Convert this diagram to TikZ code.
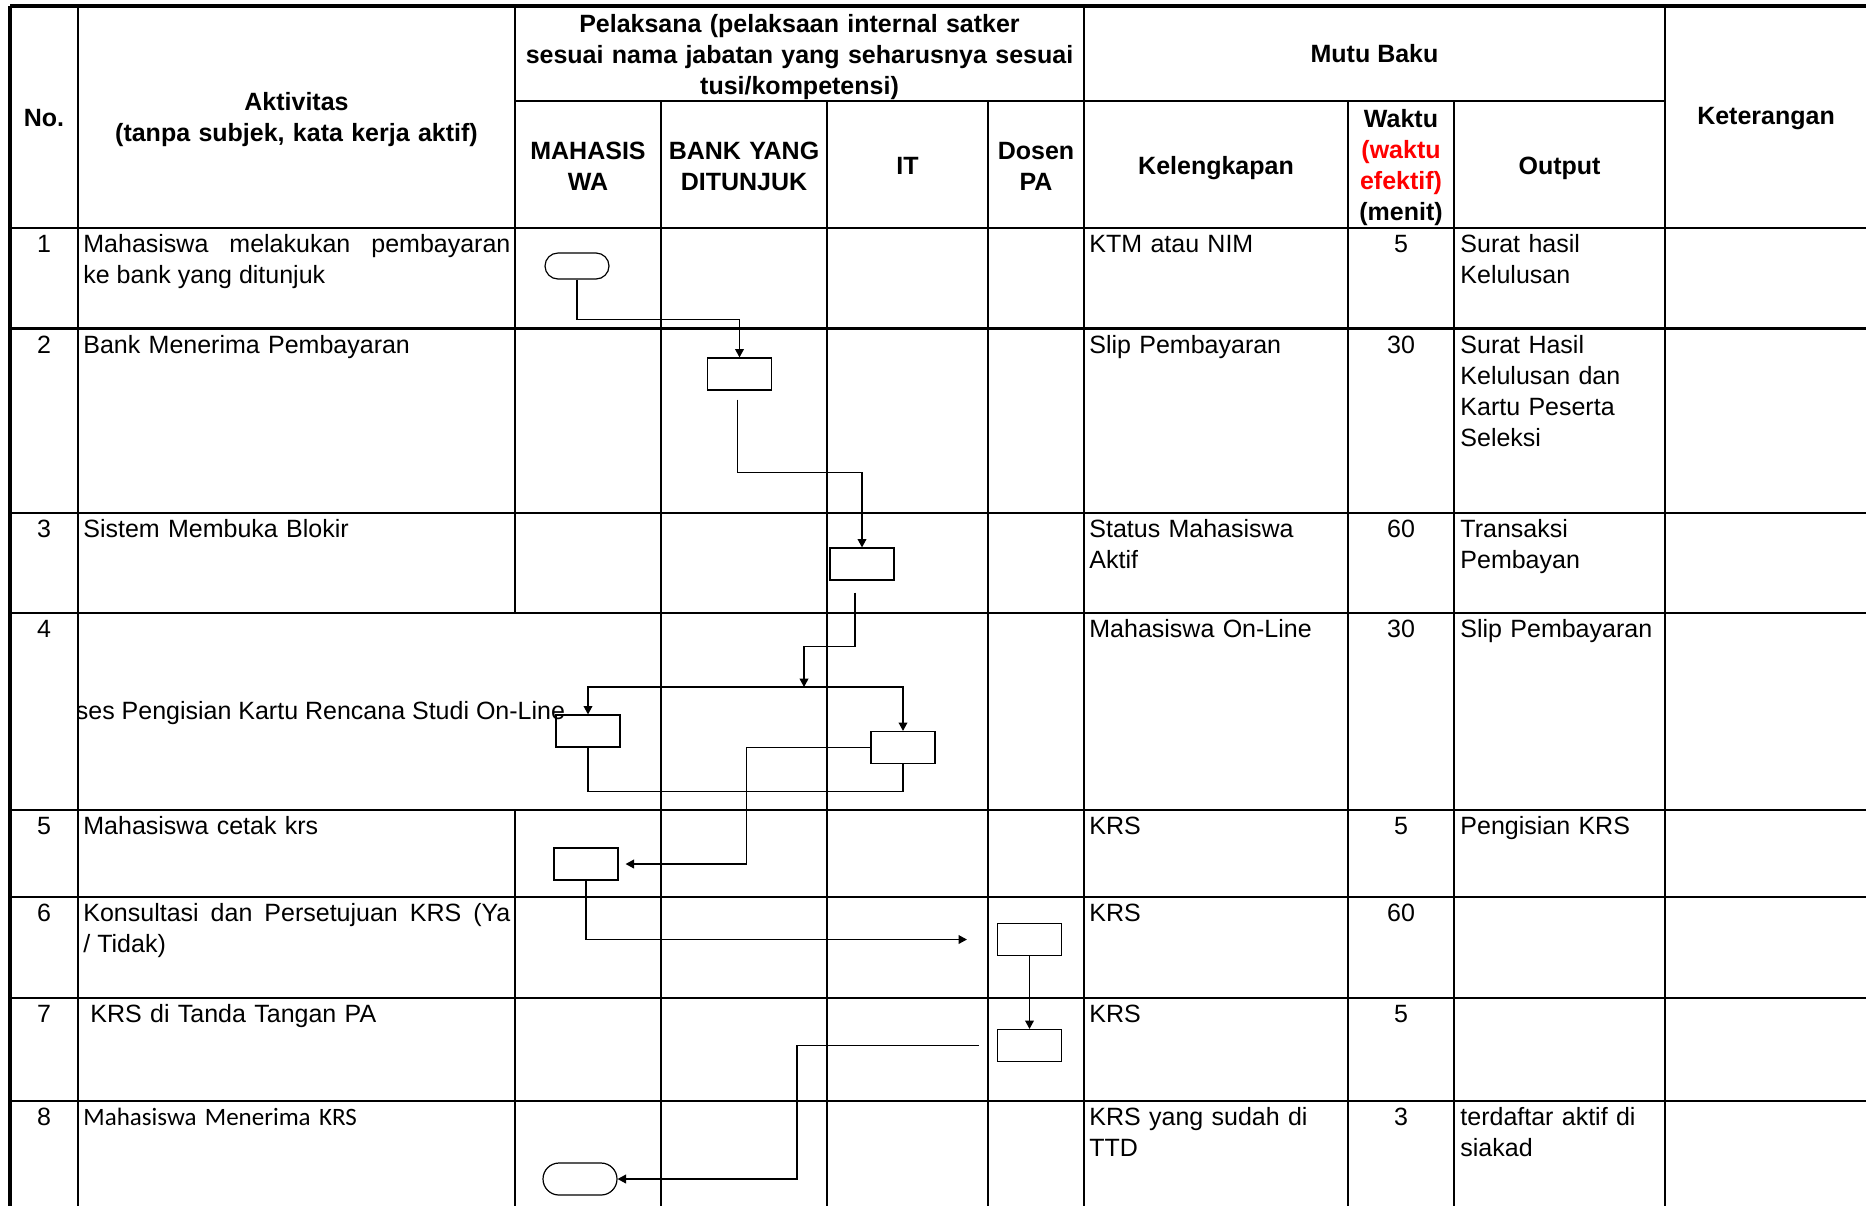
\documentclass[tikz,border=0pt]{standalone}
\usepackage{fontspec}
\setmainfont{Liberation Sans}
\newfontfamily\calibri{Carlito}
\usepackage{xcolor}
\usetikzlibrary{arrows.meta,calc}
\definecolor{TimeRed}{HTML}{FF0000}
\newcommand{\cellfont}{\fontsize{12.5}{15.5}\selectfont}

\begin{document}
\begin{tikzpicture}[
  x=0.5pt,y=-0.5pt,
  grid/.style={line width=1.1pt},
  rim/.style={line width=2.4pt},
  head/.style={anchor=base,inner sep=0pt,align=center,font=\cellfont\bfseries},
  txt/.style={anchor=base west,inner sep=0pt,text width=213.5pt,align=left,font=\cellfont},
  act/.style={txt,align=justify},
  num/.style={anchor=base,inner sep=0pt,font=\cellfont},
  proc/.style={draw,line width=.6pt,minimum width=32pt,minimum height=16pt,inner sep=0pt},
  term/.style={proc,rounded corners=6.5pt,minimum height=13pt},
  line/.style={line width=.6pt},
  flow/.style={line,-{Triangle[length=4.2pt,width=4.4pt]}}
]
\useasboundingbox (0,0) rectangle (1866,1206);
% table frame
\draw[rim] (10,6) -- (1866,6);
\draw[rim] (10,6) -- (10,1206);
\draw[grid] (515,101) -- (1665,101);
\draw[grid] (10,228) -- (1866,228) (10,328.5) -- (1866,328.5) (10,513) -- (1866,513)
  (10,613) -- (1866,613) (10,810) -- (1866,810) (10,897) -- (1866,897)
  (10,998) -- (1866,998) (10,1101) -- (1866,1101);
\draw[grid] (78,6) -- (78,1206) (515,6) -- (515,613) (515,810) -- (515,1206)
  (661,101) -- (661,1206) (827,101) -- (827,1206) (988,101) -- (988,1206)
  (1084,6) -- (1084,1206) (1348,101) -- (1348,1206) (1454,101) -- (1454,1206)
  (1665,6) -- (1665,1206);

% header
\node[head] (hno) at (44,126) {No.};
\node[head,text width=216pt] (hakt) at (296.5,110) {Aktivitas\\(tanpa subjek, kata kerja aktif)};
\node[head,text width=282pt] (hpel) at (799.5,32) {Pelaksana (pelaksaan internal satker\\sesuai nama jabatan yang seharusnya sesuai\\tusi/kompetensi)};
\node[head,text width=72pt] (hmhs) at (588,159) {MAHASIS\\WA};
\node[head,text width=82pt] (hbank) at (744,159) {BANK YANG\\DITUNJUK};
\node[head] (hit) at (907.5,174) {IT};
\node[head,text width=46pt] (hdosen) at (1036,159) {Dosen\\PA};
\node[head] (hmutu) at (1374.5,62.5) {Mutu Baku};
\node[head] (hkel) at (1216,174) {Kelengkapan};
\node[head,text width=52pt] (hwaktu) at (1401,127) {Waktu\\\textcolor{TimeRed}{(waktu}\\\textcolor{TimeRed}{efektif)}\\(menit)};
\node[head] (hout) at (1559.5,174) {Output};
\node[head] (hket) at (1766,124.5) {Keterangan};

% rows
\node[num] (n1) at (44,252.5) {1};
\node[act] (a1) at (83,252.5) {Mahasiswa melakukan pembayaran\linebreak ke bank yang ditunjuk};
\node[txt] (k1) at (1089,252.5) {KTM atau NIM};
\node[num] (w1) at (1401,252.5) {5};
\node[txt] (o1) at (1460,252.5) {Surat hasil\\Kelulusan};

\node[num] (n2) at (44,353) {2};
\node[txt] (a2) at (83,353) {Bank Menerima Pembayaran};
\node[txt] (k2) at (1089,353) {Slip Pembayaran};
\node[num] (w2) at (1401,353) {30};
\node[txt] (o2) at (1460,353) {Surat Hasil\\Kelulusan dan\\Kartu Peserta\\Seleksi};

\node[num] (n3) at (44,537.5) {3};
\node[txt] (a3) at (83,537.5) {Sistem Membuka Blokir};
\node[txt] (k3) at (1089,537.5) {Status Mahasiswa\\Aktif};
\node[num] (w3) at (1401,537.5) {60};
\node[txt] (o3) at (1460,537.5) {Transaksi\\Pembayan};

\node[num] (n4) at (44,637.5) {4};
\begin{scope}
  \clip (78,613) rectangle (661,810);
  \node[num] (a4) at (301,719) {Proses Pengisian Kartu Rencana Studi On-Line};
\end{scope}
\node[txt] (k4) at (1089,637.5) {Mahasiswa On-Line};
\node[num] (w4) at (1401,637.5) {30};
\node[txt] (o4) at (1460,637.5) {Slip Pembayaran};

\node[num] (n5) at (44,834.5) {5};
\node[txt] (a5) at (83,834.5) {Mahasiswa cetak krs};
\node[txt] (k5) at (1089,834.5) {KRS};
\node[num] (w5) at (1401,834.5) {5};
\node[txt] (o5) at (1460,834.5) {Pengisian KRS};

\node[num] (n6) at (44,921.5) {6};
\node[act] (a6) at (83,921.5) {Konsultasi dan Persetujuan KRS (Ya\linebreak / Tidak)};
\node[txt] (k6) at (1089,921.5) {KRS};
\node[num] (w6) at (1401,921.5) {60};

\node[num] (n7) at (44,1022.5) {7};
\node[txt] (a7) at (83,1022.5) {\hspace*{3.5pt}KRS di Tanda Tangan PA};
\node[txt] (k7) at (1089,1022.5) {KRS};
\node[num] (w7) at (1401,1022.5) {5};

\node[num] (n8) at (44,1125.5) {8};
\node[txt,font=\cellfont\calibri] (a8) at (83,1125.5) {Mahasiswa Menerima KRS};
\node[txt] (k8) at (1089,1125.5) {KRS yang sudah di\\TTD};
\node[num] (w8) at (1401,1125.5) {3};
\node[txt] (o8) at (1460,1125.5) {terdaftar aktif di\\siakad};

% flow shapes
\node[term] (start) at (577,266) {};
\node[proc] (bank) at (739.5,374) {};
\node[proc] (buka) at (862,564) {};
\node[proc] (isimhs) at (588,731) {};
\node[proc] (isiit) at (903,747.5) {};
\node[proc] (cetak) at (586,864) {};
\node[proc] (konsul) at (1029.5,939.5) {};
\node[proc] (ttd) at (1029.5,1045.5) {};
\node[term,minimum width=37pt,minimum height=16pt,rounded corners=8pt] (finish) at (580,1179) {};

\coordinate (bankout) at ($(bank.south)+(-2,9)$);
\coordinate (bukaout) at ($(buka.south)+(-7,12)$);
\coordinate (split) at (804,687);
\coordinate (cetakin) at ($(cetak.east)+(7,0)$);
\coordinate (konsulin) at ($(konsul.west)+(-30,0)$);
\coordinate (ttdout) at ($(ttd.west)+(-18,0)$);

\draw[flow] (start.south) -- ++(0,40) -| (bank.north);
\draw[flow] (bankout) -- ++(0,73) -| (buka.north);
\draw[flow] (bukaout) -- ++(0,54) -| (split);
\draw[flow] (split) -| (isimhs.north);
\draw[flow] (split) -| (isiit.north);
\draw[line] (isimhs.south) -- ++(0,44) -| (isiit.south);
\draw[flow] (isiit.west) -- ++(-124,0) |- (cetakin);
\draw[flow] (cetak.south) |- (konsulin);
\draw[flow] (konsul) -- (ttd);
\draw[flow] (ttdout) -- ++(-182,0) |- (finish.east);
\end{tikzpicture}
\end{document}
